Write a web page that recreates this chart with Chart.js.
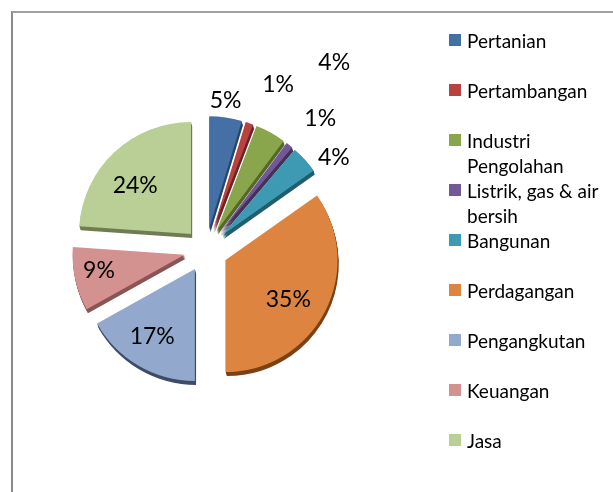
<!DOCTYPE html>
<html>
<head>
<meta charset="utf-8">
<script src="https://cdn.jsdelivr.net/npm/chart.js@4/dist/chart.umd.min.js"></script>
<style>
  body { margin: 0; background: #fff; }
  #wrap { position: relative; width: 613px; height: 492px; overflow: hidden; font-family: Lato, sans-serif; }
  #frame { position: absolute; left: 11px; top: 11px; width: 700px; height: 600px;
           border-left: 2px solid #8c8c8c; border-top: 2px solid #a0a0a0; }
  #box { position: absolute; left: 0; top: 0; width: 613px; height: 492px; }
  #legend { position: absolute; left: 449px; top: 28px; width: 160px; }
  .item { position: relative; padding-left: 18px; font-size: 19px; line-height: 25px; color: #000; height: 50px; }
  .item span.sw { position: absolute; left: 0; top: 6px; width: 12px; height: 12px; }
</style>
</head>
<body>
<div id="wrap">
  <div id="frame"></div>
  <div id="box"><canvas id="pieChart"></canvas></div>
  <div id="legend"></div>
</div>
<script>
// Données du graphique
const sektor = ['Pertanian', 'Pertambangan', 'Industri Pengolahan', 'Listrik, gas & air bersih',
  'Bangunan', 'Perdagangan', 'Pengangkutan', 'Keuangan', 'Jasa'];
const persen = [4.7, 1.1, 4.4, 1.0, 4.0, 34.8, 16.9, 9.2, 23.9];
const warna = ['#4470a6', '#b8423f', '#89a64c', '#735898', '#3e9ab2', '#dd8540', '#93a8cd', '#d39290', '#b9cf96'];
const warnaGelap = ['#26466e', '#6e2220', '#55692a', '#433158', '#205d6e', '#7a4215', '#3e4c66', '#8a5554', '#6e7d55'];

// Mise en page des étiquettes (distance depuis le centre, décalage d'angle en degrés)
const labelDist = [151, 180, 227, 174, 158, 96, 102, 109, 96];
const labelShift = [-1, 4.7, 5.6, 2.5, 6.5, 3.6, 1.4, 1.6, -4.5];
const explode = 22;
const depth = 4;

// Légende HTML
const legend = document.getElementById('legend');
sektor.forEach((s, i) => {
  const div = document.createElement('div');
  div.className = 'item';
  div.innerHTML = '<span class="sw" style="background:' + warna[i] + '"></span>' + s;
  legend.appendChild(div);
});

// Plugin : éclatement des parts, épaisseur 3D et étiquettes
const piePlugin = {
  id: 'piePlugin',
  afterDatasetUpdate(chart) {
    const meta = chart.getDatasetMeta(0);
    meta.data.forEach(arc => {
      if (arc.$cx === undefined) { arc.$cx = arc.x; arc.$cy = arc.y; }
      const mid = (arc.startAngle + arc.endAngle) / 2;
      arc.x = arc.$cx + Math.cos(mid) * explode;
      arc.y = arc.$cy + Math.sin(mid) * explode;
    });
  },
  beforeDatasetsDraw(chart) {
    const ctx = chart.ctx;
    const meta = chart.getDatasetMeta(0);
    meta.data.forEach((arc, i) => {
      for (let k = depth; k >= 1; k--) {
        ctx.beginPath();
        ctx.moveTo(arc.x + k * 0.3, arc.y + k);
        ctx.arc(arc.x + k * 0.3, arc.y + k, arc.outerRadius, arc.startAngle, arc.endAngle);
        ctx.closePath();
        ctx.fillStyle = warnaGelap[i];
        ctx.fill();
      }
    });
  },
  afterDatasetsDraw(chart) {
    const ctx = chart.ctx;
    const meta = chart.getDatasetMeta(0);
    ctx.save();
    ctx.font = '23px Lato';
    ctx.fillStyle = '#000';
    ctx.textAlign = 'center';
    ctx.textBaseline = 'middle';
    meta.data.forEach((arc, i) => {
      const mid = (arc.startAngle + arc.endAngle) / 2 + labelShift[i] * Math.PI / 180;
      const x = arc.$cx + Math.cos(mid) * labelDist[i];
      const y = arc.$cy + Math.sin(mid) * labelDist[i];
      ctx.fillText(Math.round(persen[i]) + '%', x, y);
    });
    ctx.restore();
  }
};

const ctx = document.getElementById('pieChart').getContext('2d');
new Chart(ctx, {
  type: 'pie',
  data: {
    labels: sektor,
    datasets: [{
      data: persen,
      backgroundColor: warna,
      borderWidth: 0,
      radius: 112
    }]
  },
  options: {
    responsive: true,
    maintainAspectRatio: false,
    animation: false,
    layout: { padding: { left: 0, right: 201, top: 8, bottom: 0 } },
    plugins: {
      legend: { display: false },
      tooltip: { enabled: false }
    }
  },
  plugins: [piePlugin]
});
</script>
</body>
</html>
